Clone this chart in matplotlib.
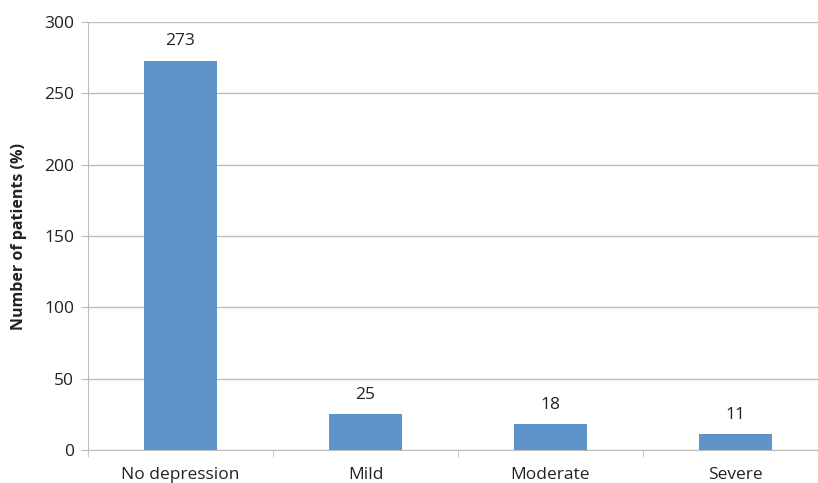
import matplotlib as mlp
mlp.use('Agg')
import matplotlib.pyplot as plt
import numpy as np

categories = ['No depression', 'Mild', 'Moderate', 'Severe']
patients = [273, 25, 18, 11]
y_ticks = [0, 50, 100, 150, 200, 250, 300]

BAR_COLOR = '#5E94C9'
GRID_COLOR = '#BDBDBD'
TEXT_COLOR = '#222222'

plt.rcParams['font.family'] = ['Open Sans', 'DejaVu Sans']

fig = plt.figure(figsize=(8.18, 4.83), dpi=100)
# axes extends slightly beyond the right edge, as in the reference
ax = fig.add_axes([88 / 818, 1 - 450 / 483, 740 / 818, 428 / 483])

x = np.arange(len(categories))
bars = ax.bar(x, patients, width=0.395, color=BAR_COLOR, zorder=3)
for b, v in zip(bars, patients):
    ax.annotate(str(v), (b.get_x() + b.get_width() / 2, v),
                xytext=(0, 8), textcoords='offset points',
                ha='center', va='bottom', fontsize=12.5, color=TEXT_COLOR)

ax.set_xlim(-0.5, len(categories) - 0.5)
ax.set_ylim(0, 300)
ax.set_yticks(y_ticks)
ax.set_xticks(x)
ax.set_xticklabels(categories)
ax.set_xticks(np.arange(len(categories) + 1) - 0.5, minor=True)
ax.yaxis.grid(True, color=GRID_COLOR, linewidth=1, zorder=0)

ax.spines['top'].set_visible(False)
ax.spines['right'].set_visible(False)
ax.spines['left'].set_color(GRID_COLOR)
ax.spines['bottom'].set_color(GRID_COLOR)
ax.tick_params(axis='x', which='major', length=0, pad=12,
               labelsize=12.5, labelcolor=TEXT_COLOR)
ax.tick_params(axis='x', which='minor', length=5, color=GRID_COLOR)
ax.tick_params(axis='y', length=5, color=GRID_COLOR, pad=5,
               labelsize=12.5, labelcolor=TEXT_COLOR)

ax.set_ylabel('Number of patients (%)', fontsize=11.5, fontweight='bold',
              color=TEXT_COLOR, labelpad=12)

fig.savefig('out.png', dpi=100)
